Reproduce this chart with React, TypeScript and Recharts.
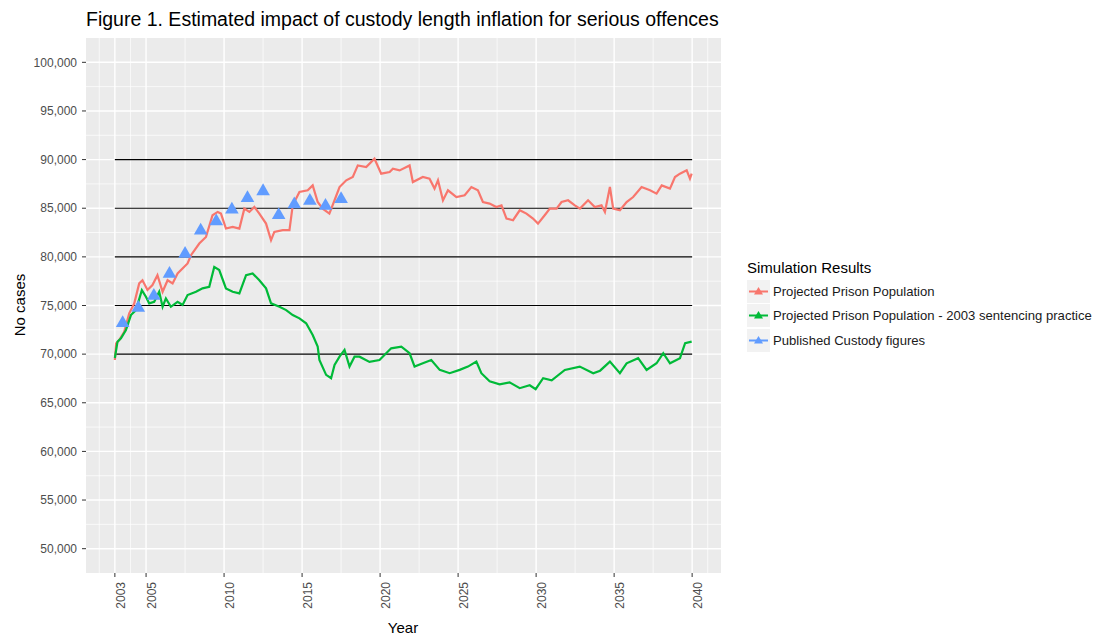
import React from "react";
import {
  CartesianGrid,
  ComposedChart,
  Line,
  ReferenceLine,
  Scatter,
  XAxis,
  YAxis,
  ZAxis,
} from "recharts";

const FONT = '"Liberation Sans", Arial, Helvetica, sans-serif';

// axis breaks (ggplot style: majors + minors between them)
const yearTicks = [2003, 2005, 2010, 2015, 2020, 2025, 2030, 2035, 2040];
const yearMinor = [2002, 2004, 2007.5, 2012.5, 2017.5, 2022.5, 2027.5, 2032.5, 2037.5, 2041];
const caseTicks = [50000, 55000, 60000, 65000, 70000, 75000, 80000, 85000, 90000, 95000, 100000];
const caseMinor = [52500, 57500, 62500, 67500, 72500, 77500, 82500, 87500, 92500, 97500];
const guideLevels = [70000, 75000, 80000, 85000, 90000];

// [year, cases]
const projected: [number, number][] = [
  [2003.0, 69400], [2003.08, 71100], [2003.28, 71450], [2003.6, 72300], [2003.92, 74200],
  [2004.24, 75200], [2004.56, 77270], [2004.77, 77600], [2005.09, 76600], [2005.41, 77100],
  [2005.73, 78120], [2006.06, 76410], [2006.38, 77600], [2006.7, 77270], [2007.02, 78300],
  [2007.66, 79320], [2007.88, 80170], [2008.41, 81370], [2008.84, 82050], [2009.26, 84280],
  [2009.59, 84620], [2009.8, 84450], [2010.12, 82910], [2010.55, 83080], [2010.98, 82910],
  [2011.3, 84960], [2011.62, 84620], [2011.94, 85130], [2012.26, 84450], [2012.69, 83420],
  [2013.01, 81710], [2013.22, 82560], [2013.76, 82740], [2014.19, 82740], [2014.4, 85300],
  [2014.83, 86670], [2015.36, 86840], [2015.68, 87350], [2016.0, 85640], [2016.32, 84960],
  [2016.75, 84450], [2017.08, 85820], [2017.4, 87180], [2017.83, 87870], [2018.25, 88210],
  [2018.57, 89400], [2019.11, 89230], [2019.64, 90090], [2020.07, 88550], [2020.61, 88720],
  [2020.82, 89070], [2021.25, 88890], [2021.89, 89400], [2022.1, 87690], [2022.74, 88210],
  [2023.17, 88040], [2023.49, 87020], [2023.71, 87870], [2024.03, 85820], [2024.35, 86840],
  [2024.89, 86150], [2025.42, 86330], [2025.85, 87180], [2026.27, 86840], [2026.59, 85640],
  [2027.02, 85480], [2027.45, 85130], [2027.78, 85300], [2028.1, 83940], [2028.52, 83770],
  [2028.95, 84790], [2029.38, 84450], [2029.8, 83940], [2030.12, 83420], [2030.55, 84280],
  [2030.88, 84960], [2031.31, 84960], [2031.63, 85640], [2032.05, 85820], [2032.48, 85300],
  [2032.81, 84960], [2033.33, 85820], [2033.76, 85130], [2034.19, 85300], [2034.41, 84620],
  [2034.73, 87180], [2034.94, 84960], [2035.37, 84790], [2035.8, 85640], [2036.22, 86150],
  [2036.76, 87180], [2037.3, 86840], [2037.72, 86500], [2038.05, 87350], [2038.58, 87020],
  [2038.9, 88210], [2039.22, 88550], [2039.65, 88890], [2039.86, 88040], [2039.97, 88550],
];

const projected2003: [number, number][] = [
  [2003.0, 69600], [2003.17, 71280], [2003.39, 71630], [2003.71, 72480], [2004.03, 74020],
  [2004.35, 74530], [2004.73, 76580], [2004.99, 75900], [2005.2, 75220], [2005.52, 75380],
  [2005.84, 76410], [2006.06, 74870], [2006.27, 75730], [2006.59, 74870], [2007.02, 75380],
  [2007.34, 75050], [2007.66, 76070], [2008.2, 76410], [2008.62, 76760], [2009.05, 76920],
  [2009.37, 78970], [2009.69, 78640], [2010.12, 76760], [2010.55, 76410], [2010.98, 76250],
  [2011.41, 78120], [2011.83, 78300], [2012.26, 77600], [2012.69, 76760], [2013.01, 75220],
  [2013.55, 74870], [2013.98, 74530], [2014.4, 74020], [2014.83, 73680], [2015.26, 73170],
  [2015.68, 71970], [2016.0, 70770], [2016.11, 69400], [2016.54, 67870], [2016.86, 67530],
  [2017.08, 68890], [2017.4, 69740], [2017.72, 70430], [2018.04, 68720], [2018.36, 69740],
  [2018.68, 69740], [2019.32, 69200], [2019.96, 69400], [2020.71, 70600], [2021.36, 70770],
  [2021.89, 70090], [2022.21, 68720], [2022.74, 69060], [2023.28, 69400], [2023.82, 68380],
  [2024.46, 68040], [2025.1, 68380], [2025.63, 68720], [2026.17, 69230], [2026.49, 68040],
  [2027.02, 67200], [2027.66, 66900], [2028.3, 67100], [2028.95, 66500], [2029.59, 66800],
  [2029.97, 66400], [2030.45, 67530], [2031.0, 67300], [2031.84, 68380], [2032.8, 68720],
  [2033.66, 68040], [2034.1, 68300], [2034.73, 69230], [2035.37, 68040], [2035.8, 69060],
  [2036.54, 69580], [2037.08, 68380], [2037.72, 69060], [2038.15, 70090], [2038.58, 69060],
  [2039.22, 69580], [2039.55, 71120], [2039.97, 71280],
];

const published: [number, number][] = [
  [2003.5, 73200], [2004.5, 74750], [2005.5, 76000], [2006.5, 78250], [2007.5, 80300],
  [2008.5, 82700], [2009.5, 83650], [2010.5, 84850], [2011.5, 86050], [2012.5, 86750],
  [2013.5, 84300], [2014.5, 85400], [2015.5, 85750], [2016.5, 85250], [2017.5, 85950],
];

const rows = (pts: [number, number][]) => pts.map(([year, cases]) => ({ year, cases }));

const legendItems = [
  { label: "Projected Prison Population", color: "#F8766D" },
  { label: "Projected Prison Population - 2003 sentencing practice", color: "#00BA38" },
  { label: "Published Custody figures", color: "#619CFF" },
];

const YearTick = (props: any) => {
  const { x, y, payload } = props;
  const tx = x + 6;
  const ty = y + 2;
  return (
    <text
      x={tx}
      y={ty}
      transform={`rotate(-90 ${tx} ${ty})`}
      textAnchor="end"
      dominantBaseline="central"
      fill="#4D4D4D"
      fontSize={12}
      fontFamily={FONT}
    >
      {payload.value}
    </text>
  );
};

const LegendKey = ({ color }: { color: string }) => (
  <svg width={23} height={23} style={{ display: "block" }}>
    <rect x={0} y={0} width={23} height={23} fill="#F2F2F2" />
    <line x1={2} y1={11.5} x2={21} y2={11.5} stroke={color} strokeWidth={2} />
    <path d="M11.5 7 L16 14.5 L7 14.5 Z" fill={color} />
  </svg>
);

export default function App() {
  return (
    <div
      style={{
        position: "absolute",
        left: 0,
        top: 0,
        width: 1099,
        height: 635,
        background: "#fff",
        fontFamily: FONT,
      }}
    >
      <div style={{ position: "absolute", left: 86, top: 6, fontSize: 19.5, lineHeight: "26px", color: "#000", whiteSpace: "nowrap" }}>
        Figure 1. Estimated impact of custody length inflation for serious offences
      </div>

      <ComposedChart width={1099} height={635} margin={{ top: 38, right: 378, bottom: 0, left: 0 }}>
        <CartesianGrid
          fill="#EBEBEB"
          stroke="#FFFFFF"
          strokeWidth={0.7}
          horizontalValues={caseMinor}
          verticalValues={yearMinor}
        />
        <CartesianGrid stroke="#FFFFFF" strokeWidth={1.4} horizontalValues={caseTicks} verticalValues={yearTicks} />
        <XAxis
          type="number"
          dataKey="year"
          domain={[2001.15, 2041.85]}
          ticks={yearTicks}
          interval={0}
          allowDataOverflow
          axisLine={false}
          tickLine={{ stroke: "#333333" }}
          tickSize={4}
          tickMargin={3}
          height={62}
          tick={<YearTick />}
        />
        <YAxis
          type="number"
          dataKey="cases"
          domain={[47500, 102500]}
          ticks={caseTicks}
          interval={0}
          allowDataOverflow
          axisLine={false}
          tickLine={{ stroke: "#333333" }}
          tickSize={4}
          tickMargin={5}
          width={86}
          tick={{ fill: "#4D4D4D", fontSize: 12, fontFamily: FONT }}
          tickFormatter={(v: number) => v.toLocaleString("en-US")}
        />
        <ZAxis range={[80, 80]} />
        {guideLevels.map((v) => (
          <ReferenceLine
            key={v}
            segment={[
              { x: 2003, y: v },
              { x: 2040, y: v },
            ]}
            stroke="#000000"
            strokeWidth={1.1}
          />
        ))}
        <Line
          data={rows(projected)}
          dataKey="cases"
          type="linear"
          stroke="#F8766D"
          strokeWidth={2.2}
          dot={false}
          activeDot={false}
          isAnimationActive={false}
        />
        <Line
          data={rows(projected2003)}
          dataKey="cases"
          type="linear"
          stroke="#00BA38"
          strokeWidth={2.2}
          dot={false}
          activeDot={false}
          isAnimationActive={false}
        />
        <Scatter data={rows(published)} dataKey="cases" shape="triangle" fill="#619CFF" isAnimationActive={false} />
      </ComposedChart>

      <div
        style={{
          position: "absolute",
          left: 19,
          top: 305,
          transform: "translate(-50%, -50%) rotate(-90deg)",
          fontSize: 15,
          color: "#000",
          whiteSpace: "nowrap",
        }}
      >
        No cases
      </div>
      <div
        style={{
          position: "absolute",
          left: 403,
          top: 627,
          transform: "translate(-50%, -50%)",
          fontSize: 15,
          color: "#000",
        }}
      >
        Year
      </div>

      <div style={{ position: "absolute", left: 747, top: 259 }}>
        <div style={{ fontSize: 15, lineHeight: "18px", color: "#000", marginBottom: 2 }}>Simulation Results</div>
        {legendItems.map((it) => (
          <div key={it.label} style={{ display: "flex", alignItems: "center", height: 24.5 }}>
            <LegendKey color={it.color} />
            <span style={{ marginLeft: 3, fontSize: 13.1, color: "#1A1A1A", whiteSpace: "nowrap" }}>{it.label}</span>
          </div>
        ))}
      </div>
    </div>
  );
}
